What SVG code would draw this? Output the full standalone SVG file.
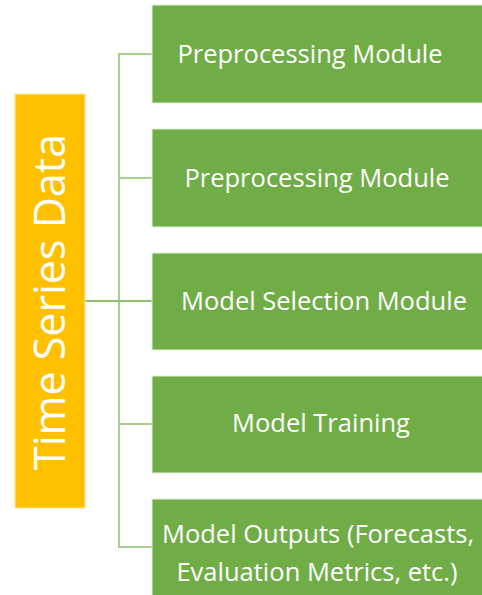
<svg xmlns="http://www.w3.org/2000/svg" width="482" height="595" viewBox="0 0 482 595">
<style>
.box{fill:#70AD47;stroke:#E2EFDA;stroke-width:1}
.lbl{fill:#FFFFFF;font-family:"Open Sans","Liberation Sans",sans-serif;font-size:25.5px;text-anchor:middle}
.tree{stroke:#A9D18E;stroke-width:2;fill:none}
</style>
<rect width="482" height="595" fill="#FFFFFF"/>
<g id="connectors">
<polyline class="tree" points="152,54 119,54 119,547 152,547"/>
<line class="tree" x1="119" y1="178" x2="152" y2="178"/>
<line class="tree" x1="119" y1="424" x2="152" y2="424"/>
<line x1="85" y1="301" x2="152" y2="301" stroke="#8DBF6E" stroke-width="2"/>
</g>
<g id="root">
<rect x="15" y="94" width="70" height="414" fill="#FFC000" stroke="#FFE699" stroke-width="1"/>
<text transform="translate(65,302) rotate(-90)" fill="#FFFFFF" font-family="Open Sans, Liberation Sans, sans-serif" font-size="43" text-anchor="middle">Time Series Data</text>
</g>
<g id="n1">
<rect class="box" x="152" y="5" width="335" height="98"/>
<text class="lbl" x="310" y="63">Preprocessing Module</text>
</g>
<g id="n2">
<rect class="box" x="152" y="129" width="335" height="98"/>
<text class="lbl" x="317" y="187">Preprocessing Module</text>
</g>
<g id="n3">
<rect class="box" x="152" y="253" width="335" height="97"/>
<text class="lbl" x="324" y="310">Model Selection Module</text>
</g>
<g id="n4">
<rect class="box" x="152" y="376" width="335" height="97"/>
<text class="lbl" x="321" y="432">Model Training</text>
</g>
<g id="n5">
<rect class="box" x="152" y="499" width="335" height="100"/>
<text class="lbl" x="318" y="543">Model Outputs (Forecasts,</text>
<text class="lbl" x="317" y="581">Evaluation Metrics, etc.)</text>
</g>
</svg>
